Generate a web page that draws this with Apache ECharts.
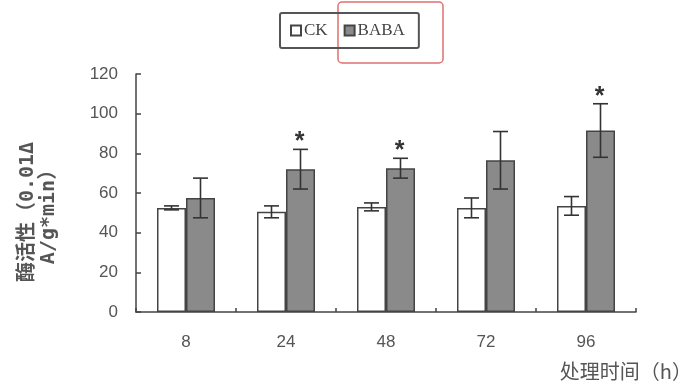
<!DOCTYPE html>
<html>
<head>
<meta charset="utf-8">
<script src="https://cdn.jsdelivr.net/npm/echarts@6/dist/echarts.min.js"></script>
<style>
  html, body { margin: 0; padding: 0; background: #fff; }
  #chart { width: 686px; height: 388px; }
</style>
</head>
<body>
<div id="chart"></div>
<script>
// Treatment time points (h)
const categories = ['8', '24', '48', '72', '96'];
// Enzyme activity means and standard errors
const ckMean = [52.5, 50.5, 53, 52.5, 53.5];
const ckErr = [1, 3, 2, 5, 4.7];
const babaMean = [57.5, 72, 72.5, 76.5, 91.5];
const babaErr = [10, 10, 5, 14.5, 13.5];
// Significant difference vs CK
const babaSig = [false, true, true, false, true];
const yTicks = { min: 0, max: 120, interval: 20 };

const BAR_W = 29;
const AXIS_COLOR = '#444';
const TEXT_COLOR = '#555';

// Error bar (with optional significance star) drawn for one series
function errorBarRenderer(sigArr, side) {
  return function (params, api) {
    const idx = api.value(0);
    const mean = api.value(1);
    const err = api.value(2);
    const top = api.coord([idx, mean + err]);
    const bot = api.coord([idx, mean - err]);
    const x = top[0] + side * BAR_W / 2;
    const cap = 7.5;
    const style = { stroke: '#333', lineWidth: 1.6 };
    const children = [
      { type: 'line', shape: { x1: x, y1: top[1], x2: x, y2: bot[1] }, style },
      { type: 'line', shape: { x1: x - cap, y1: top[1], x2: x + cap, y2: top[1] }, style },
      { type: 'line', shape: { x1: x - cap, y1: bot[1], x2: x + cap, y2: bot[1] }, style }
    ];
    if (sigArr && sigArr[idx]) {
      children.push({
        type: 'text',
        style: {
          text: '*', x: x - 1, y: top[1] - 7,
          fill: '#333', font: 'bold 25px "Liberation Sans"',
          textAlign: 'center', textVerticalAlign: 'middle'
        }
      });
    }
    return { type: 'group', children };
  };
}

const chart = echarts.init(document.getElementById('chart'), null, { renderer: 'canvas' });
chart.setOption({
  animation: false,
  backgroundColor: '#fff',
  grid: { left: 136, right: 50, top: 74, bottom: 76, containLabel: false, outerBoundsMode: 'none' },
  legend: {
    data: ['CK', 'BABA'],
    left: 280, top: 13,
    padding: [9, 14, 9, 10],
    itemWidth: 10, itemHeight: 10, itemGap: 16,
    icon: 'rect',
    borderColor: '#555', borderWidth: 2, borderRadius: 2,
    textStyle: { fontFamily: '"Liberation Serif", serif', fontSize: 17, color: '#444', padding: [0, 0, 0, -2] }
  },
  xAxis: {
    type: 'category',
    data: categories,
    name: '处理时间（h）',
    nameLocation: 'end',
    nameGap: 0,
    nameTextStyle: {
      fontFamily: '"Noto Sans CJK SC"', fontSize: 20, color: TEXT_COLOR,
      align: 'right', verticalAlign: 'top', padding: [49, -56, 0, 0]
    },
    axisLine: { lineStyle: { color: AXIS_COLOR, width: 1.5 } },
    axisTick: { show: true, inside: true, length: 4, lineStyle: { color: AXIS_COLOR, width: 1.5 } },
    axisLabel: { margin: 22, fontFamily: '"Liberation Sans"', fontSize: 17, color: TEXT_COLOR }
  },
  yAxis: {
    type: 'value',
    min: yTicks.min, max: yTicks.max, interval: yTicks.interval,
    splitLine: { show: false },
    axisLine: { show: true, lineStyle: { color: AXIS_COLOR, width: 1.5 } },
    axisTick: { show: true, inside: true, length: 5, lineStyle: { color: AXIS_COLOR, width: 1.5 } },
    axisLabel: { margin: 18, fontFamily: '"Liberation Sans"', fontSize: 17, color: TEXT_COLOR }
  },
  graphic: [
    {
      type: 'text',
      x: 38, y: 212,
      rotation: Math.PI / 2,
      style: {
        text: '酶活性（0.01Δ\nA/g*min）',
        font: 'bold 20px "DejaVu Sans Mono", "Noto Sans CJK SC"',
        fill: '#555',
        textAlign: 'center', textVerticalAlign: 'middle',
        lineHeight: 21
      }
    },
    {
      type: 'rect',
      shape: { x: 338, y: 2, width: 105, height: 61, r: 4 },
      style: { fill: 'none', stroke: '#e07070', lineWidth: 1.5 }
    }
  ],
  series: [
    {
      name: 'CK', type: 'bar', data: ckMean,
      barWidth: BAR_W, barGap: '0%',
      itemStyle: { color: '#fff', borderColor: '#444', borderWidth: 1.5 }
    },
    {
      name: 'BABA', type: 'bar', data: babaMean,
      barWidth: BAR_W, barGap: '0%',
      itemStyle: { color: '#8a8a8a', borderColor: '#444', borderWidth: 1.5 }
    },
    {
      type: 'custom', name: 'CK-err',
      renderItem: errorBarRenderer(null, -1),
      data: ckMean.map((v, i) => [i, v, ckErr[i]]),
      z: 10
    },
    {
      type: 'custom', name: 'BABA-err',
      renderItem: errorBarRenderer(babaSig, 1),
      data: babaMean.map((v, i) => [i, v, babaErr[i]]),
      z: 10
    }
  ]
});
</script>
</body>
</html>
